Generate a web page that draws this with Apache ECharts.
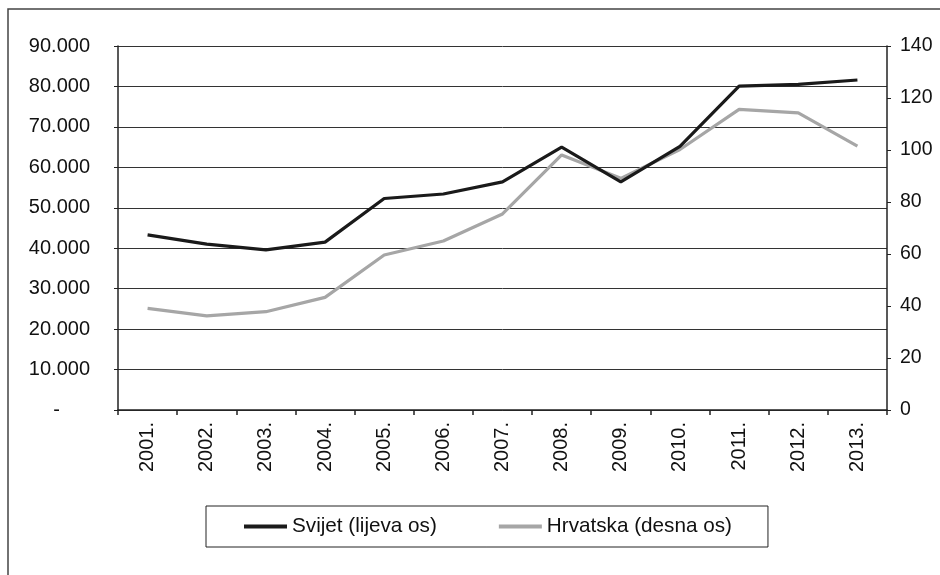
<!DOCTYPE html>
<html>
<head>
<meta charset="utf-8">
<script src="https://cdn.jsdelivr.net/npm/echarts@6/dist/echarts.min.js"></script>
<style>
  html, body { margin: 0; padding: 0; background: #fff; }
  #chart { width: 940px; height: 575px; }
</style>
</head>
<body>
<div id="chart"></div>
<script>
  const godine = ['2001.', '2002.', '2003.', '2004.', '2005.', '2006.', '2007.', '2008.', '2009.', '2010.', '2011.', '2012.', '2013.'];
  const svijet = [43300, 41000, 39600, 41500, 52300, 53400, 56400, 65000, 56400, 65200, 80100, 80500, 81600];
  const hrvatska = [39.1, 36.2, 37.8, 43.3, 59.6, 65.0, 75.4, 98.1, 89.1, 100.2, 115.6, 114.3, 101.5];

  const font = 'Liberation Sans, Arial, sans-serif';
  const tocke = v => String(v).replace(/\B(?=(\d{3})+(?!\d))/g, '.');

  const chart = echarts.init(document.getElementById('chart'));

  chart.setOption({
    animation: false,
    textStyle: { fontFamily: font },
    graphic: [{
      type: 'rect',
      shape: { x: 8, y: 9, width: 960, height: 600 },
      style: { fill: 'none', stroke: '#444', lineWidth: 1.5 },
      silent: true
    }],
    grid: { left: 118, right: 53, top: 46, bottom: 165 },
    legend: {
      left: 206,
      top: 506,
      padding: [10, 36, 10, 38],
      borderColor: '#222',
      borderWidth: 1,
      itemGap: 62,
      itemWidth: 43,
      itemHeight: 4,
      icon: 'rect',
      textStyle: { fontSize: 20.7, color: '#111', fontFamily: font }
    },
    xAxis: {
      type: 'category',
      data: godine,
      boundaryGap: true,
      axisLine: { lineStyle: { color: '#222', width: 1.5 } },
      axisTick: { show: true, length: 5, lineStyle: { color: '#222', width: 1.5 } },
      axisLabel: { rotate: 90, margin: 12, fontSize: 20, color: '#111', fontFamily: font }
    },
    yAxis: [{
      type: 'value',
      min: 0,
      max: 90000,
      interval: 10000,
      position: 'left',
      axisLine: { show: true, lineStyle: { color: '#222', width: 1.5 } },
      axisTick: { show: true, length: 4, lineStyle: { color: '#222' } },
      splitLine: { lineStyle: { color: '#333', width: 1 } },
      axisLabel: {
        margin: 28,
        fontSize: 20,
        color: '#111',
        fontFamily: font,
        formatter: v => v === 0 ? '{d|-}' : tocke(v),
        rich: { d: { fontSize: 20, color: '#111', fontFamily: font, padding: [0, 30, 0, 0] } }
      }
    }, {
      type: 'value',
      min: 0,
      max: 140,
      interval: 20,
      position: 'right',
      axisLine: { show: true, lineStyle: { color: '#222', width: 1.5 } },
      axisTick: { show: true, length: 4, lineStyle: { color: '#222' } },
      splitLine: { show: false },
      axisLabel: { margin: 13, fontSize: 19.5, color: '#111', fontFamily: font }
    }],
    series: [{
      name: 'Svijet (lijeva os)',
      type: 'line',
      yAxisIndex: 0,
      data: svijet,
      symbol: 'none',
      z: 3,
      color: '#1a1a1a',
      lineStyle: { color: '#1a1a1a', width: 3.2 }
    }, {
      name: 'Hrvatska (desna os)',
      type: 'line',
      yAxisIndex: 1,
      data: hrvatska,
      symbol: 'none',
      z: 2,
      color: '#a6a6a6',
      lineStyle: { color: '#a6a6a6', width: 3.2 }
    }]
  });
</script>
</body>
</html>
